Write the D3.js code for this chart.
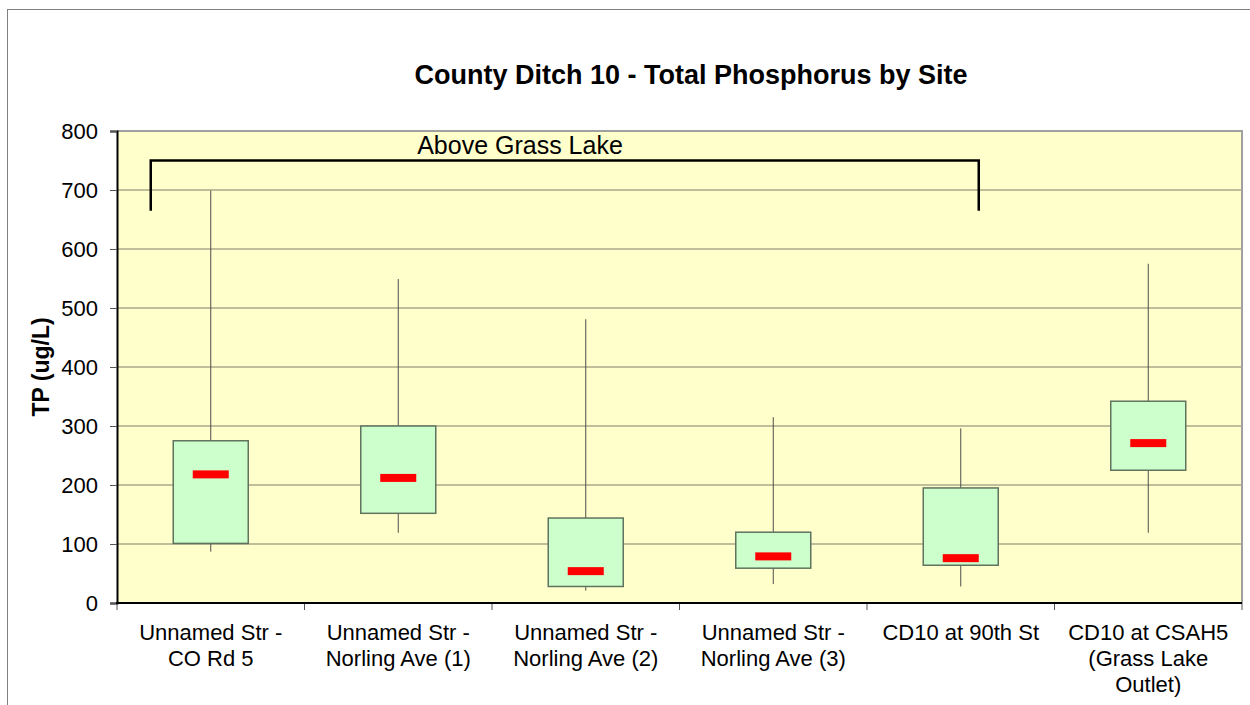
<!DOCTYPE html>
<html>
<head>
<meta charset="utf-8">
<script src="https://cdn.jsdelivr.net/npm/d3@7"></script>
<style>
  body { margin: 0; background: #ffffff; }
  svg text { font-family: Arial, "Liberation Sans", sans-serif; }
</style>
</head>
<body>
<div class="chartShaper"></div>
<script>
// County Ditch 10 - total phosphorus box plot per site

// data
var sites = [
    ["Unnamed Str -", "CO Rd 5"],
    ["Unnamed Str -", "Norling Ave (1)"],
    ["Unnamed Str -", "Norling Ave (2)"],
    ["Unnamed Str -", "Norling Ave (3)"],
    ["CD10 at 90th St"],
    ["CD10 at CSAH5", "(Grass Lake", "Outlet)"]
];
var whiskerLow  = [87, 119, 21, 32, 28, 119];
var boxLow      = [101, 152, 28, 59, 64, 225];
var medians     = [218, 212, 54, 79, 76, 271];
var boxHigh     = [275, 300, 144, 120, 195, 342];
var whiskerHigh = [699, 549, 481, 315, 296, 575];
var yTicks = [0, 100, 200, 300, 400, 500, 600, 700, 800];

// bracket annotation over the first five sites
var bracketLabel = "Above Grass Lake";
var bracketTop = 750, bracketFoot = 665;

// dimensions
var width = 1250, height = 705;
var plot = {left: 117, top: 131, right: 1242, bottom: 603};

var svg = d3.select(".chartShaper")
            .append("svg")
            .attr("width", width)
            .attr("height", height);

// outer chart border
svg.append("rect")
   .attr("x", 7.5).attr("y", 9.5)
   .attr("width", 1260).attr("height", 720)
   .attr("fill", "none")
   .attr("stroke", "#808080")
   .attr("stroke-width", 1);

// scales
var x = d3.scaleBand()
          .domain(d3.range(sites.length))
          .range([plot.left, plot.right]);

var y = d3.scaleLinear()
          .domain([0, 800])
          .range([plot.bottom, plot.top]);

// plot background
svg.append("rect")
   .attr("x", plot.left).attr("y", plot.top)
   .attr("width", plot.right - plot.left)
   .attr("height", plot.bottom - plot.top)
   .attr("fill", "#ffffcc");

// gridlines
svg.append("g")
   .selectAll("line")
   .data(yTicks.filter(function(d) { return d > 0 && d < 800; }))
   .enter().append("line")
   .attr("x1", plot.left).attr("x2", plot.right)
   .attr("y1", function(d) { return y(d); })
   .attr("y2", function(d) { return y(d); })
   .attr("stroke", "#7f7f6a")
   .attr("stroke-width", 1);

// top and right border (grey)
svg.append("path")
   .attr("d", "M" + plot.left + "," + plot.top + "H" + plot.right + "V" + plot.bottom)
   .attr("fill", "none")
   .attr("stroke", "#a0a0a0")
   .attr("stroke-width", 2);

// y axis
var yAxis = svg.append("g")
               .attr("transform", "translate(" + plot.left + ",0)")
               .call(d3.axisLeft(y).tickValues(yTicks).tickSize(7).tickPadding(12));
yAxis.select(".domain").attr("stroke", "#000").attr("stroke-width", 2);
yAxis.selectAll(".tick line").attr("stroke", "#555");
yAxis.selectAll(".tick text")
     .attr("font-size", "22px")
     .attr("fill", "#000")
     .style("font-family", "Arial, 'Liberation Sans', sans-serif");

// x axis (ticks on band edges)
var xEdges = d3.range(sites.length + 1).map(function(i) {
    return plot.left + i * x.step();
});
svg.append("g")
   .selectAll("line")
   .data(xEdges)
   .enter().append("line")
   .attr("x1", function(d) { return d; })
   .attr("x2", function(d) { return d; })
   .attr("y1", plot.bottom).attr("y2", plot.bottom + 7)
   .attr("stroke", "#555");

svg.append("line")
   .attr("x1", plot.left - 1).attr("x2", plot.right)
   .attr("y1", plot.bottom).attr("y2", plot.bottom)
   .attr("stroke", "#000")
   .attr("stroke-width", 2);

// x labels
var xLabels = svg.append("g")
                 .selectAll("text")
                 .data(sites)
                 .enter().append("text")
                 .attr("text-anchor", "middle")
                 .attr("font-size", "22px")
                 .attr("fill", "#000")
                 .attr("x", function(d, i) { return x(i) + x.bandwidth() / 2; })
                 .attr("y", 640);
xLabels.selectAll("tspan")
       .data(function(d) { return d; })
       .enter().append("tspan")
       .attr("x", function() { return d3.select(this.parentNode).attr("x"); })
       .attr("dy", function(d, i) { return i === 0 ? 0 : 26; })
       .text(function(d) { return d; });

// box plots
var boxWidth = x.bandwidth() * 0.4;
var medWidth = 36, medHeight = 8;
var boxes = svg.append("g")
               .selectAll("g")
               .data(sites)
               .enter().append("g")
               .attr("transform", function(d, i) {
                   return "translate(" + (x(i) + x.bandwidth() / 2) + ",0)";
               });

boxes.append("line")
     .attr("x1", 0).attr("x2", 0)
     .attr("y1", function(d, i) { return y(whiskerLow[i]); })
     .attr("y2", function(d, i) { return y(whiskerHigh[i]); })
     .attr("stroke", "#4d4d4d")
     .attr("stroke-width", 1);

boxes.append("rect")
     .attr("x", -boxWidth / 2)
     .attr("width", boxWidth)
     .attr("y", function(d, i) { return y(boxHigh[i]); })
     .attr("height", function(d, i) { return y(boxLow[i]) - y(boxHigh[i]); })
     .attr("fill", "#ccffcc")
     .attr("stroke", "#5f735f")
     .attr("stroke-width", 1.5);

boxes.append("rect")
     .attr("x", -medWidth / 2)
     .attr("width", medWidth)
     .attr("y", function(d, i) { return y(medians[i]) - medHeight / 2; })
     .attr("height", medHeight)
     .attr("fill", "#ff0000");

// bracket
var bx1 = x(0) + x.bandwidth() / 2 - 60;
var bx2 = x(4) + x.bandwidth() / 2 + 18;
svg.append("path")
   .attr("d", "M" + bx1 + "," + y(bracketFoot) + "V" + y(bracketTop) +
              "H" + bx2 + "V" + y(bracketFoot))
   .attr("fill", "none")
   .attr("stroke", "#000")
   .attr("stroke-width", 2.5);

svg.append("text")
   .attr("x", 520)
   .attr("y", y(bracketTop) - 7)
   .attr("text-anchor", "middle")
   .attr("font-size", "25px")
   .attr("fill", "#000")
   .text(bracketLabel);

// title
svg.append("text")
   .attr("x", 691)
   .attr("y", 84)
   .attr("text-anchor", "middle")
   .attr("font-size", "27px")
   .attr("font-weight", "bold")
   .attr("fill", "#000")
   .text("County Ditch 10 - Total Phosphorus by Site");

// y axis title
svg.append("text")
   .attr("transform", "translate(49," + ((plot.top + plot.bottom) / 2) + ") rotate(-90)")
   .attr("text-anchor", "middle")
   .attr("font-size", "23px")
   .attr("font-weight", "bold")
   .attr("fill", "#000")
   .text("TP (ug/L)");
</script>
</body>
</html>
